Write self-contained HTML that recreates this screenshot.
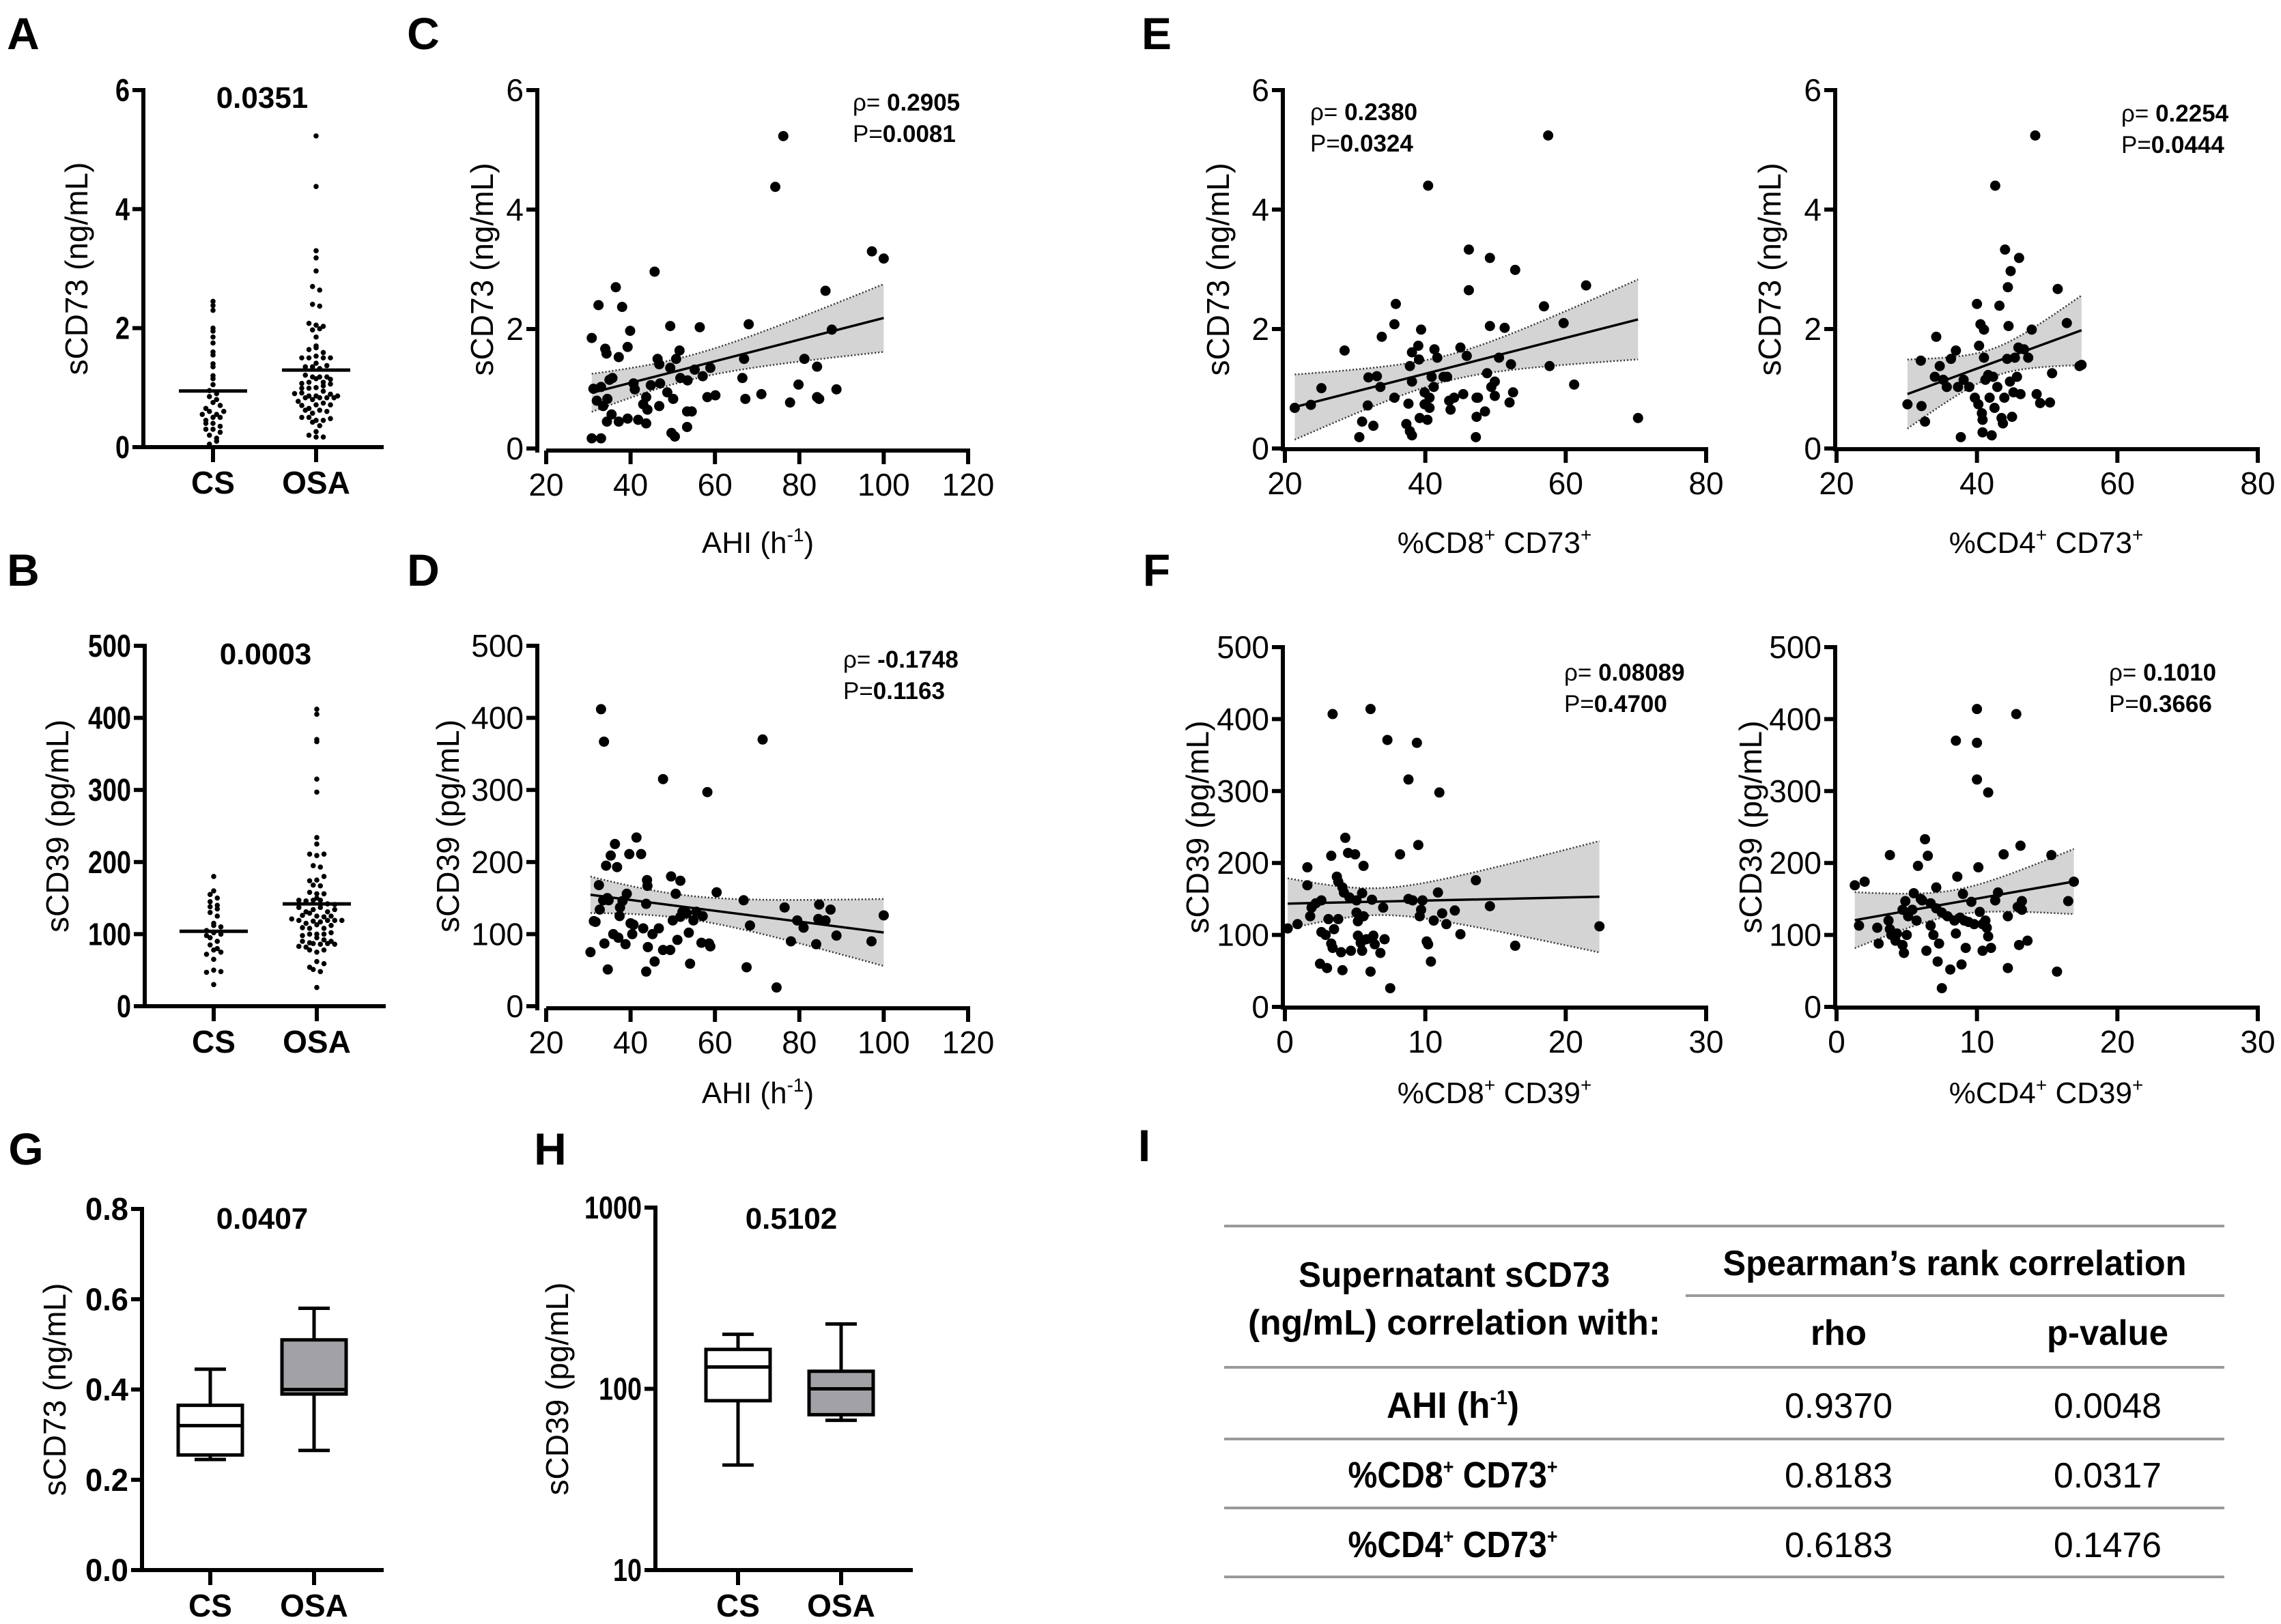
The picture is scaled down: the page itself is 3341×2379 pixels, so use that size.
<!DOCTYPE html>
<html><head><meta charset="utf-8"><style>
html,body{margin:0;padding:0;background:#fff}
svg{display:block}
text{font-family:"Liberation Sans",sans-serif;fill:#000}
</style></head><body>
<svg id="fig" xmlns="http://www.w3.org/2000/svg" width="3341" height="2379" viewBox="0 0 3341 2379"></svg>
<script>
// ---------- DATA ----------
const C_ahi=[30.8,33,30.8,32.4,36.5,38,39.9,39.3,37.2,34,34.3,31.2,33,35.7,35,32,33.5,34.5,35.5,34.4,37.2,39.3,41.8,43.7,43,44,43.7,40.7,41,45.7,46.4,46.8,44.8,47,46.8,48.7,49.4,49.4,50.8,51.6,50.1,49.7,50.5,51.8,53.5,53.4,54.5,53.4,55.2,56.4,57.1,58.2,58.9,60.1,66.9,66.5,67.2,68,71,74.3,76.2,77.8,79.8,81.2,84.2,84.2,84.7,86.2,87.7,88.8,97.2,100];
const C_cd73=[0.17,0.17,1.85,2.4,2.7,2.37,1.97,1.7,1.53,1.67,1.59,1.0,1.03,1.18,1.15,0.8,0.71,0.83,0.57,0.45,0.45,0.5,0.48,0.42,0.74,0.65,0.86,1.09,0.99,2.96,1.5,1.41,1.06,1.09,0.71,0.94,2.05,1.35,1.5,1.64,0.83,0.26,0.2,1.18,1.14,0.62,0.62,0.36,1.32,2.03,1.21,0.86,1.35,0.89,1.5,1.18,0.83,2.08,0.91,4.38,5.23,0.77,1.07,1.5,1.37,0.86,0.83,2.64,1.99,0.99,3.3,3.18];
const D_ahi=[30.5,31.3,31.7,32.5,32.7,33,33.5,33.7,33.8,34.2,34.5,34.6,34.8,35.3,35.9,36.3,36.8,37.1,37.4,37.5,38.1,38.8,39.1,39.7,40,40.4,40.7,41.4,42.5,43,43.7,43.9,44,44.1,43.7,45.2,45.7,46.7,47.7,47.7,49.4,49.6,50,50.7,51.1,51.8,51.8,52.3,53.3,53.8,54.1,54.9,55.6,56.8,57.1,58.2,58.6,58.9,60.4,66.8,67.5,68.3,71.3,74.6,76.5,78,79.5,81,84,84.5,84.7,86.2,87.4,88.8,97.1,100];
const D_cd39=[75,118,117,168,134,412,147,367,87,195,150,51,147,209,100,225,193,95,125,137,146,86,156,211,115,100,113,234,211,108,142,175,167,82,48,100,62,108,315,78,78,180,119,156,92,124,174,131,129,102,59,119,131,88,125,297,87,83,158,147,54,112,370,26,137,90,119,109,86,121,141,119,134,98,90,126];
const E8_x=[21.4,23.7,25.2,28.5,30.6,31,31.8,31.9,32.6,33.1,33.6,33.8,35.6,35.8,35.6,37.3,37.6,37.8,38.1,38.1,37.8,38.1,39,39.1,39.4,39.2,39.9,39.9,40.3,40.4,40.6,40.6,40.9,41.2,41.3,41.7,42.6,43.1,43.4,43.6,44.1,45,45.4,45.9,46.2,46.2,47.3,47.3,47.2,47.5,48.5,48.8,49.2,49.2,49.4,49.9,49.9,50.5,51.3,52,52.2,52.5,52.8,56.9,57.5,57.7,59.7,61.2,62.9,70.3];
const E8_y=[0.68,0.73,1.01,1.64,0.19,0.45,0.72,1.19,0.38,1.21,1.03,1.87,2.08,2.42,0.85,0.41,0.75,1.38,1.61,1.12,0.29,0.22,1.72,1.49,1.99,0.51,0.74,0.94,0.48,4.4,0.85,0.68,1.2,1.03,1.66,1.52,1.2,1.2,0.8,0.65,0.85,1.69,0.91,1.55,2.65,3.33,0.85,0.53,0.19,0.85,0.62,1.26,2.05,3.19,1.03,1.12,0.88,1.52,2.02,0.77,1.41,0.94,2.99,2.38,5.24,1.38,2.1,1.07,2.73,0.51];
const E4_x=[30.1,32,32.1,32.6,34.2,34,34.7,35.2,35.7,36.3,37,37.3,37.7,38.1,38.9,39.7,40,40.2,40.3,40.5,40.7,40.8,40.8,41,41,41.2,41.6,41.8,42.1,42.3,42.5,42.6,42.9,43.2,43.5,43.7,43.9,44,44.3,44.4,44.5,44.7,44.8,45,45.2,45.4,45.7,45.9,46,46.2,46.7,47.3,47.8,48.3,48.5,49,50.4,50.7,51.5,52.8,54.6,54.9];
const E4_y=[0.74,1.47,0.71,0.45,1.87,1.2,1.38,1.15,1.03,1.5,1.64,1.03,0.19,1.15,1.03,0.85,2.42,0.74,1.72,2.08,0.59,0.48,0.27,1.99,1.52,1.15,1.23,0.85,0.22,1.2,0.68,4.4,1.03,2.39,0.51,0.42,0.85,3.33,1.5,2.7,2.05,1.12,2.97,0.53,0.94,1.52,1.2,1.69,3.19,0.91,1.66,1.52,1.99,5.24,0.91,0.76,0.77,1.26,2.67,2.1,1.38,1.4];
const F8_x=[0.2,0.9,1.6,1.6,1.8,1.9,2.2,2.6,2.6,2.5,2.9,3,3.1,3.3,3.4,3.3,3.4,3.5,3.7,3.8,3.8,4,4.1,4.1,4.3,4.2,4.5,4.6,4.7,5,5.1,5.1,5.2,5.2,5.4,5.5,5.5,5.6,5.6,5.8,6.1,6.1,6.2,6.3,6.4,6.8,7,7.1,7.3,7.5,8.2,8.8,8.8,9.1,9.4,9.5,9.6,9.7,9.8,10.1,10.2,10.4,10.6,10.9,11,11.2,11.5,12.1,12.5,13.6,14.6,16.4,22.4];
const F8_y=[109,115,194,169,126,138,144,148,104,60,100,54,122,210,407,88,82,108,181,122,174,76,51,166,235,159,214,152,78,212,148,131,99,119,89,78,158,196,126,94,414,49,149,99,87,75,138,94,371,26,212,316,150,148,367,225,126,135,148,91,87,63,120,159,298,130,115,134,101,176,140,85,112];
const F4_x=[1.3,2,1.6,2.9,3,3.7,3.8,3.8,3.9,4.2,4.3,4.7,4.8,4.7,4.9,5,5.1,5.4,5.5,5.7,5.8,6,6.1,6.3,6.4,6.5,6.7,6.7,6.9,7.1,7.1,7.2,7.3,7.5,7.5,7.9,8.1,8.4,8.5,8.5,8.6,8.8,8.9,9,9.1,9.2,9.4,9.6,9.8,10,10,10,10.1,10.2,10.4,10.4,10.6,10.7,10.8,10.8,11,11.3,11.5,11.9,12.2,12.2,12.8,12.9,13,13.1,13.2,13.2,13.6,15.3,15.7,16.5,16.9];
const F4_y=[169,174,113,110,88,120,211,108,100,92,102,86,75,135,147,100,126,135,158,120,196,150,148,233,78,210,144,113,100,137,166,63,88,131,26,126,52,120,370,102,181,124,59,157,120,82,118,146,115,414,367,316,194,132,115,78,120,110,298,98,82,148,159,212,126,54,407,139,86,224,147,135,92,211,49,147,174];
const A_groups=["CS","OSA"];
const A_cs=[2.45,2.38,2.3,2.0,1.95,1.85,1.75,1.6,1.55,1.4,1.35,1.2,1.15,1.05,0.95,0.9,0.85,0.8,0.75,0.7,0.65,0.6,0.55,0.5,0.5,0.45,0.4,0.35,0.3,0.25,0.2,0.15,0.05,0.1,0.3,0.55,0.6,0.4];
const A_osa=[0.17,0.17,1.85,2.4,2.7,2.37,1.97,1.7,1.53,1.67,1.59,1.0,1.03,1.18,1.15,0.8,0.71,0.83,0.57,0.45,0.45,0.5,0.48,0.42,0.74,0.65,0.86,1.09,0.99,2.96,1.5,1.41,1.06,1.09,0.71,0.94,2.05,1.35,1.5,1.64,0.83,0.26,0.2,1.18,1.14,0.62,0.62,0.36,1.32,2.03,1.21,0.86,1.35,0.89,1.5,1.18,0.83,2.08,0.91,4.38,5.23,0.77,1.07,1.5,1.37,0.86,0.83,2.64,1.99,0.99,3.3,3.18,0.5,0.6,0.9,0.7];
const B_cs=[180,160,155,150,145,140,138,135,130,125,115,112,110,105,102,100,98,95,90,85,80,78,75,72,65,50,48,47,30];
const B_osa=[75,118,117,168,134,412,147,367,87,195,150,51,147,209,100,225,193,95,125,137,146,86,156,211,115,100,113,234,211,108,142,175,167,82,48,100,62,108,315,78,78,180,119,156,92,124,174,131,129,102,59,119,131,88,125,297,87,83,158,147,54,112,370,26,137,90,119,109,86,121,141,119,134,98,90,126,405];
// box plots: [min, q1, median, q3, max]
const G_cs=[0.245,0.255,0.32,0.365,0.445];
const G_osa=[0.265,0.39,0.40,0.51,0.58];
const H_cs=[38,86,132,165,200];
const H_osa=[67,72,100,125,228];
const yTicks73=[0,2,4,6];
const yTicks39=[0,100,200,300,400,500];
const xTicksAHI=[20,40,60,80,100,120];
const xTicksE=[20,40,60,80];
const xTicksF=[0,10,20,30];
const yTicksG=[0,0.2,0.4,0.6,0.8];
const yTicksH=[10,100,1000];

// ---------- helpers ----------
const svg=document.getElementById('fig');
const NS='http://www.w3.org/2000/svg';
function mk(tag,attrs,parent){const e=document.createElementNS(NS,tag);for(const k in attrs)e.setAttribute(k,attrs[k]);(parent||svg).appendChild(e);return e;}
function txt(str,x,y,size,opts,parent){opts=opts||{};const t=mk('text',{x:x,y:y,'font-size':size,'text-anchor':opts.anchor||'middle','font-weight':opts.bold?'bold':'normal'},parent);if(opts.len){t.setAttribute('textLength',opts.len);t.setAttribute('lengthAdjust','spacingAndGlyphs');}if(opts.rot)t.setAttribute('transform','rotate(-90 '+x+' '+y+')');t.textContent=str;return t;}
function fmt(v){return String(v);}
function linAxis(d0,d1,p0,p1){return v=>p0+(v-d0)/(d1-d0)*(p1-p0);}

function scatterPanel(p){
  const g=mk('g',{});
  
  
  const sx=linAxis(p.xd[0],p.xd[1],p.xp[0],p.xp[1]);
  const sy=linAxis(p.yd[0],p.yd[1],p.yp[0],p.yp[1]);
  const xs=p.xs, ys=p.ys, n=xs.length;
  let mx=0,my=0;for(let i=0;i<n;i++){mx+=xs[i];my+=ys[i];}mx/=n;my/=n;
  let sxx=0,sxy=0;for(let i=0;i<n;i++){sxx+=(xs[i]-mx)**2;sxy+=(xs[i]-mx)*(ys[i]-my);}
  const b=sxy/sxx,a=my-b*mx;
  let sse=0;for(let i=0;i<n;i++){sse+=(ys[i]-a-b*xs[i])**2;}
  const s=Math.sqrt(sse/(n-2)),t=1.99;
  const x0=Math.min(...xs),x1=Math.max(...xs);
  const up=[],lo=[];
  for(let k=0;k<=40;k++){const xv=x0+(x1-x0)*k/40;const h=t*s*Math.sqrt(1/n+(xv-mx)**2/sxx);up.push([sx(xv),sy(a+b*xv+h)]);lo.push([sx(xv),sy(a+b*xv-h)]);}
  const band=mk('path',{d:'M'+up.map(q=>q.join(',')).join('L')+'L'+lo.slice().reverse().map(q=>q.join(',')).join('L')+'Z',fill:'#d4d4d4',stroke:'none'},g);
  
  
  const ub=mk('polyline',{points:up.map(q=>q.join(',')).join(' '),fill:'none',stroke:'#333','stroke-width':2.5,'stroke-dasharray':'2 3'},g);
  
  
  const lb=mk('polyline',{points:lo.map(q=>q.join(',')).join(' '),fill:'none',stroke:'#333','stroke-width':2.5,'stroke-dasharray':'2 3'},g);
  
  
  const fl=mk('line',{x1:sx(x0),y1:sy(a+b*x0),x2:sx(x1),y2:sy(a+b*x1),stroke:'#000','stroke-width':3.5},g);
  
  
  for(let i=0;i<n;i++){
    const c=mk('circle',{cx:sx(xs[i]),cy:sy(ys[i]),r:7.5,fill:'#000'},g);
    
    
  }
  const ya=mk('line',{x1:p.yAxisX,y1:p.yp[1]-3,x2:p.yAxisX,y2:p.xAxisY+3,stroke:'#000','stroke-width':6},g);
  
  
  const xa=mk('line',{x1:p.xAxisStart,y1:p.xAxisY,x2:p.xp[1]+3,y2:p.xAxisY,stroke:'#000','stroke-width':6},g);
  
  
  p.yticks.forEach(v=>{
    const tk=mk('line',{x1:p.yAxisX-16,y1:sy(v),x2:p.yAxisX,y2:sy(v),stroke:'#000','stroke-width':6},g);
    
    
    const tl=txt(fmt(v),p.yAxisX-20,sy(v)+16,46,{anchor:'end'},g);
    
    
  });
  p.xticks.forEach(v=>{
    const tk=mk('line',{x1:sx(v),y1:p.xAxisY,x2:sx(v),y2:p.xAxisY+20,stroke:'#000','stroke-width':6},g);
    
    
    const tl=txt(fmt(v),sx(v),p.xAxisY+66,46,{},g);
    
    
  });
  const yl=txt(p.ylabel,p.ylabX,(p.yp[0]+p.yp[1])/2,46,{rot:true},g);
  
  
  const xl=mk('text',{x:p.xlabX,y:p.xlabY,'font-size':44,'text-anchor':'middle'},g);
  
  
  xl.innerHTML=p.xlabel;
  const r1=mk('text',{x:p.annX,y:p.annY,'font-size':35},g);
  
  
  r1.innerHTML='ρ= <tspan font-weight="bold">'+p.rho+'</tspan>';
  const r2=mk('text',{x:p.annX,y:p.annY+46,'font-size':35},g);
  
  
  r2.innerHTML='P=<tspan font-weight="bold">'+p.pv+'</tspan>';
}

function swarmPanel(p){
  const g=mk('g',{});
  
  
  const sy=linAxis(p.yd[0],p.yd[1],p.yp[0],p.yp[1]);
  [p.g1,p.g2].forEach((vals,gi)=>{
    const cx=p.cx[gi];
    const bins={};
    vals.forEach(v=>{const k=Math.round(sy(v)/9);(bins[k]=bins[k]||[]).push(v);});
    for(const k in bins){bins[k].forEach((v,j)=>{const L=bins[k].length;const dx=(L%2)?(j%2?1:-1)*Math.ceil(j/2)*10.5:((j%2?1:-1)*(Math.floor(j/2)*10.5+5.25));
      const c=mk('circle',{cx:cx+dx,cy:sy(v),r:3.8,fill:'#000'},g);
      
      
    });}
    const mean=vals.reduce((s,v)=>s+v,0)/vals.length;
    const ml=mk('line',{x1:cx-50,y1:sy(mean),x2:cx+50,y2:sy(mean),stroke:'#000','stroke-width':5},g);
    
    
  });
  axesCat(p,g,sy);
}
function axesCat(p,g,sy){
  const ya=mk('line',{x1:p.yAxisX,y1:p.yp[1]-3,x2:p.yAxisX,y2:p.xAxisY+3,stroke:'#000','stroke-width':6},g);
  
  
  const xa=mk('line',{x1:p.yAxisX-3,y1:p.xAxisY,x2:p.xEnd,y2:p.xAxisY,stroke:'#000','stroke-width':6},g);
  
  
  p.yticks.forEach((v,i)=>{
    const tk=mk('line',{x1:p.yAxisX-16,y1:sy(v),x2:p.yAxisX,y2:sy(v),stroke:'#000','stroke-width':6},g);
    
    
    const lab=p.ylabs?p.ylabs[i]:fmt(v);
    const tl=txt(lab,p.yAxisX-20,sy(v)+16,46,{anchor:'end',bold:true,len:lab.length*21},g);
    
    
  });
  A_groups.forEach((lab,i)=>{
    const tk=mk('line',{x1:p.cx[i],y1:p.xAxisY,x2:p.cx[i],y2:p.xAxisY+22,stroke:'#000','stroke-width':6},g);
    
    
    const tl=txt(lab,p.cx[i],p.xAxisY+68,46,{bold:true},g);
    
    
  });
  const yl=txt(p.ylabel,p.ylabX,(p.yp[0]+p.yp[1])/2,46,{rot:true},g);
  
  
  const pt=txt(p.pval,p.pX,p.pY,44,{bold:true},g);
  
  
}
function boxPanel(p){
  const g=mk('g',{});
  
  
  const sy=p.log?(v=>p.yp[0]+(Math.log10(v)-Math.log10(p.yd[0]))/(Math.log10(p.yd[1])-Math.log10(p.yd[0]))*(p.yp[1]-p.yp[0])):linAxis(p.yd[0],p.yd[1],p.yp[0],p.yp[1]);
  [p.g1,p.g2].forEach((q,gi)=>{
    const cx=p.cx[gi],hw=47;
    const w1=mk('line',{x1:cx,y1:sy(q[0]),x2:cx,y2:sy(q[1]),stroke:'#000','stroke-width':5},g);
    
    
    const w2=mk('line',{x1:cx,y1:sy(q[3]),x2:cx,y2:sy(q[4]),stroke:'#000','stroke-width':5},g);
    
    
    [q[0],q[4]].forEach(v=>{
      const cap=mk('line',{x1:cx-23,y1:sy(v),x2:cx+23,y2:sy(v),stroke:'#000','stroke-width':5},g);
      
      
    });
    const bx=mk('rect',{x:cx-hw,y:sy(q[3]),width:2*hw,height:sy(q[1])-sy(q[3]),fill:gi?'#a2a2a6':'#fff',stroke:'#000','stroke-width':5},g);
    
    
    const md=mk('line',{x1:cx-hw,y1:sy(q[2]),x2:cx+hw,y2:sy(q[2]),stroke:'#000','stroke-width':5},g);
    
    
  });
  axesCat(p,g,sy);
}
function letter(ch,x,y){const t=txt(ch,x,y,66,{bold:true});}

letter('A',34,72);letter('C',620,72);letter('E',1694,72);
letter('B',34,858);letter('D',620,858);letter('F',1694,858);
letter('G',38,1706);letter('H',806,1706);letter('I',1676,1701);

swarmPanel({name:'panel-a',g1:A_cs,g2:A_osa,yd:[0,6],yp:[655,132],yAxisX:210,xAxisY:655,xEnd:562,cx:[312,463],yticks:yTicks73,ylabel:'sCD73 (ng/mL)',ylabX:128,pval:'0.0351',pX:384,pY:158});
swarmPanel({name:'panel-b',g1:B_cs,g2:B_osa,yd:[0,500],yp:[1474,946],yAxisX:212,xAxisY:1474,xEnd:565,cx:[313,464],yticks:yTicks39,ylabel:'sCD39 (pg/mL)',ylabX:100,pval:'0.0003',pX:389,pY:973});

const xAHI='AHI (h<tspan font-size="28" dy="-17">-1</tspan><tspan dy="17">)</tspan>';
scatterPanel({name:'panel-c',xs:C_ahi,ys:C_cd73,xd:[20,120],xp:[800,1418],yd:[0,6],yp:[657,132],yAxisX:787,xAxisY:660,xAxisStart:800,xticks:xTicksAHI,yticks:yTicks73,ylabel:'sCD73 (ng/mL)',ylabX:722,xlabel:xAHI,xlabX:1110,xlabY:810,rho:'0.2905',pv:'0.0081',annX:1249,annY:162});
scatterPanel({name:'panel-d',xs:D_ahi,ys:D_cd39,xd:[20,120],xp:[800,1418],yd:[0,500],yp:[1474,946],yAxisX:787,xAxisY:1477,xAxisStart:800,xticks:xTicksAHI,yticks:yTicks39,ylabel:'sCD39 (pg/mL)',ylabX:672,xlabel:xAHI,xlabX:1110,xlabY:1616,rho:'-0.1748',pv:'0.1163',annX:1235,annY:978});
const sup='<tspan font-size="28" dy="-17">+</tspan><tspan dy="17">';
scatterPanel({name:'panel-e-cd8',xs:E8_x,ys:E8_y,xd:[20,80],xp:[1882,2499],yd:[0,6],yp:[657,132],yAxisX:1879,xAxisY:658,xAxisStart:1876,xticks:xTicksE,yticks:yTicks73,ylabel:'sCD73 (ng/mL)',ylabX:1800,xlabel:'%CD8'+sup+' CD73</tspan><tspan font-size="28" dy="-17">+</tspan>',xlabX:2189,xlabY:810,rho:'0.2380',pv:'0.0324',annX:1919,annY:176});
scatterPanel({name:'panel-e-cd4',xs:E4_x,ys:E4_y,xd:[20,80],xp:[2690,3307],yd:[0,6],yp:[657,132],yAxisX:2688,xAxisY:658,xAxisStart:2685,xticks:xTicksE,yticks:yTicks73,ylabel:'sCD73 (ng/mL)',ylabX:2608,xlabel:'%CD4'+sup+' CD73</tspan><tspan font-size="28" dy="-17">+</tspan>',xlabX:2997,xlabY:810,rho:'0.2254',pv:'0.0444',annX:3107,annY:178});
scatterPanel({name:'panel-f-cd8',xs:F8_x,ys:F8_y,xd:[0,30],xp:[1882,2499],yd:[0,500],yp:[1475,948],yAxisX:1879,xAxisY:1476,xAxisStart:1876,xticks:xTicksF,yticks:yTicks39,ylabel:'sCD39 (pg/mL)',ylabX:1770,xlabel:'%CD8'+sup+' CD39</tspan><tspan font-size="28" dy="-17">+</tspan>',xlabX:2189,xlabY:1616,rho:'0.08089',pv:'0.4700',annX:2291,annY:997});
scatterPanel({name:'panel-f-cd4',xs:F4_x,ys:F4_y,xd:[0,30],xp:[2690,3307],yd:[0,500],yp:[1475,948],yAxisX:2688,xAxisY:1476,xAxisStart:2685,xticks:xTicksF,yticks:yTicks39,ylabel:'sCD39 (pg/mL)',ylabX:2580,xlabel:'%CD4'+sup+' CD39</tspan><tspan font-size="28" dy="-17">+</tspan>',xlabX:2997,xlabY:1616,rho:'0.1010',pv:'0.3666',annX:3089,annY:997});

boxPanel({name:'panel-g',g1:G_cs,g2:G_osa,yd:[0,0.8],yp:[2300,1771],yAxisX:208,xAxisY:2300,xEnd:562,cx:[308,460],yticks:yTicksG,ylabs:['0.0','0.2','0.4','0.6','0.8'],ylabel:'sCD73 (ng/mL)',ylabX:96,pval:'0.0407',pX:384,pY:1800});
boxPanel({name:'panel-h',log:true,g1:H_cs,g2:H_osa,yd:[10,1000],yp:[2300,1769],yAxisX:960,xAxisY:2300,xEnd:1337,cx:[1081,1232],yticks:yTicksH,ylabel:'sCD39 (pg/mL)',ylabX:832,pval:'0.5102',pX:1159,pY:1800});

// ---------- table ----------
const tb=mk('g',{});


[[1793,1796],[2469,1898],[1793,2003],[1793,2108],[1793,2209],[1793,2310]].forEach(r=>{
  const l=mk('line',{x1:r[0],y1:r[1],x2:3258,y2:r[1],stroke:'#9a9a9a','stroke-width':4},tb);
  
  
});
const tt=[
 ['Supernatant sCD73',2130,1885,456,true,'row-header-title'],
 ['(ng/mL) correlation with:',2130,1955,604,true,'row-header-subtitle'],
 ["Spearman\u2019s rank correlation",2863,1868,679,true,'column-group-header'],
 ['rho',2693,1970,82,true,'rho-header'],
 ['p-value',3087,1970,178,true,'p-value-header'],
 ['0.9370',2693,2077,158,false,'rho-ahi'],['0.0048',3087,2077,158,false,'p-ahi'],
 ['0.8183',2693,2179,158,false,'rho-cd8'],['0.0317',3087,2179,158,false,'p-cd8'],
 ['0.6183',2693,2281,158,false,'rho-cd4'],['0.1476',3087,2281,158,false,'p-cd4']];
tt.forEach(r=>{const t=txt(r[0],r[1],r[2],52,{bold:r[4],len:r[3]},tb);});
const rowLabs=[['AHI (h<tspan font-size="30" dy="-20">-1</tspan><tspan dy="20">)</tspan>',2128,2077,'row-label-ahi',194],
 ['%CD8<tspan font-size="30" dy="-20">+</tspan><tspan dy="20"> CD73</tspan><tspan font-size="30" dy="-20">+</tspan>',2128,2179,'row-label-cd8',307],
 ['%CD4<tspan font-size="30" dy="-20">+</tspan><tspan dy="20"> CD73</tspan><tspan font-size="30" dy="-20">+</tspan>',2128,2281,'row-label-cd4',307]];
rowLabs.forEach(r=>{const t=mk('text',{x:r[1],y:r[2],'font-size':54,'font-weight':'bold','text-anchor':'middle',textLength:r[4],lengthAdjust:'spacingAndGlyphs'},tb);t.innerHTML=r[0];});
</script>
</body></html>
